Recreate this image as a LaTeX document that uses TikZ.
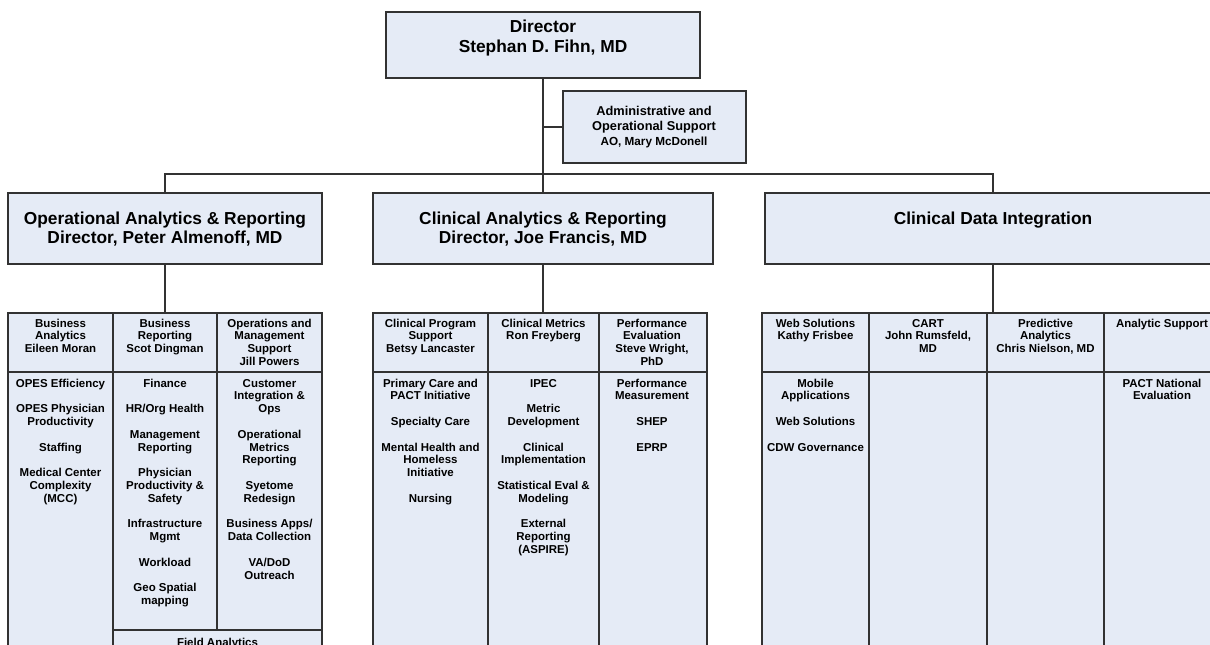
\documentclass[tikz,border=0pt]{standalone}
\usepackage{fontspec}
\setmainfont{Liberation Sans}
\definecolor{boxfill}{RGB}{229,235,246}
\definecolor{edge}{RGB}{50,50,50}
\newcommand\lns[1]{\vtop{\halign{\hfil##\hfil\cr#1\crcr}}}
\newcommand\bx[6][]{\node[box,#1,anchor=north west,minimum width={(#5-#3)*0.75pt},minimum height={(#6-#4)*0.75pt}] (#2) at (#3,#4) {};}
\tikzset{
  box/.style={rectangle,draw=edge,fill=boxfill,line width=1.25pt,inner sep=0pt,outer sep=0pt},
  conn/.style={draw=edge,line width=1.2pt},
  body/.style={anchor=base,inner sep=0pt,font=\bfseries\fontsize{8.6pt}{9.6pt}\selectfont},
  big/.style={anchor=base,inner sep=0pt,font=\bfseries\fontsize{13pt}{13.7pt}\selectfont},
  dirtxt/.style={anchor=base,inner sep=0pt,font=\bfseries\fontsize{13pt}{14.6pt}\selectfont},
  admtxt/.style={anchor=base,inner sep=0pt,font=\bfseries\fontsize{9.6pt}{11pt}\selectfont}
}
\begin{document}
\begin{tikzpicture}[x=0.75pt,y=-0.75pt]
\useasboundingbox (0,0) rectangle (1210,645);
\clip (0,0) rectangle (1210,645);
% top level
\bx{dir}{386}{12}{700}{78}
\node[dirtxt] (dirt) at (543,33) {\lns{Director\cr Stephan D. Fihn, MD}};
\bx{adm}{563}{91}{746}{163}
\node[admtxt] (admt) at (654,116) {\lns{Administrative and\cr Operational Support\cr {\fontsize{8.8pt}{11pt}\selectfont AO, Mary McDonell}}};
% level 2
\bx{op}{8}{193}{322}{264}
\node[big] (opt) at (165,225) {\lns{Operational Analytics \& Reporting\cr Director, Peter Almenoff, MD}};
\bx{car}{373}{193}{713}{264}
\node[big] (cart) at (543,225) {\lns{Clinical Analytics \& Reporting\cr Director, Joe Francis, MD}};
\bx{cdi}{765}{193}{1221}{264}
\node[big] (cdit) at (993,225) {\lns{Clinical Data Integration}};
% left table
\bx{lh1}{8}{313}{113}{372}
\bx{lh2}{113}{313}{217}{372}
\bx{lh3}{217}{313}{322}{372}
\bx{lb1}{8}{372}{113}{660}
\bx{lb2}{113}{372}{217}{630}
\bx{lb3}{217}{372}{322}{630}
\bx{lf}{113}{630}{322}{670}
\node[body] (lh1t) at (60.5,327) {\lns{Business\cr Analytics\cr Eileen Moran}};
\node[body] (lh2t) at (165,327) {\lns{Business\cr Reporting\cr Scot Dingman}};
\node[body] (lh3t) at (269.5,327) {\lns{Operations and\cr Management\cr Support\cr Jill Powers}};
\node[body] (lb1t) at (60.5,387) {\lns{OPES Efficiency\cr\cr OPES Physician\cr Productivity\cr\cr Staffing\cr\cr Medical Center\cr Complexity\cr (MCC)}};
\node[body] (lb2t) at (165,387) {\lns{Finance\cr\cr HR/Org Health\cr\cr Management\cr Reporting\cr\cr Physician\cr Productivity \&\cr Safety\cr\cr Infrastructure\cr Mgmt\cr\cr Workload\cr\cr Geo Spatial\cr mapping}};
\node[body] (lb3t) at (269.5,387) {\lns{Customer\cr Integration \&\cr Ops\cr\cr Operational\cr Metrics\cr Reporting\cr\cr Syetome\cr Redesign\cr\cr Business Apps/\cr Data Collection\cr\cr VA/DoD\cr Outreach}};
\node[body] (lft) at (217.5,646) {\lns{Field Analytics}};
% middle table
\bx{mh1}{373}{313}{488}{372}
\bx{mh2}{488}{313}{599}{372}
\bx{mh3}{599}{313}{707}{372}
\bx{mb1}{373}{372}{488}{660}
\bx{mb2}{488}{372}{599}{660}
\bx{mb3}{599}{372}{707}{660}
\node[body] (mh1t) at (430.5,327) {\lns{Clinical Program\cr Support\cr Betsy Lancaster}};
\node[body] (mh2t) at (543.5,327) {\lns{Clinical Metrics\cr Ron Freyberg}};
\node[body] (mh3t) at (652,327) {\lns{Performance\cr Evaluation\cr Steve Wright,\cr PhD}};
\node[body] (mb1t) at (430.5,387) {\lns{Primary Care and\cr PACT Initiative\cr\cr Specialty Care\cr\cr Mental Health and\cr Homeless\cr Initiative\cr\cr Nursing}};
\node[body] (mb2t) at (543.5,387) {\lns{IPEC\cr\cr Metric\cr Development\cr\cr Clinical\cr Implementation\cr\cr Statistical Eval \&\cr Modeling\cr\cr External\cr Reporting\cr (ASPIRE)}};
\node[body] (mb3t) at (652,387) {\lns{Performance\cr Measurement\cr\cr SHEP\cr\cr EPRP}};
% right table
\bx{rh1}{762}{313}{869}{372}
\bx{rh2}{869}{313}{987}{372}
\bx{rh3}{987}{313}{1104}{372}
\bx{rh4}{1104}{313}{1222}{372}
\bx{rb1}{762}{372}{869}{660}
\bx{rb2}{869}{372}{987}{660}
\bx{rb3}{987}{372}{1104}{660}
\bx{rb4}{1104}{372}{1222}{660}
\node[body] (rh1t) at (815.5,327) {\lns{Web Solutions\cr Kathy Frisbee}};
\node[body] (rh2t) at (928,327) {\lns{CART\cr John Rumsfeld,\cr MD}};
\node[body] (rh3t) at (1045.5,327) {\lns{Predictive\cr Analytics\cr Chris Nielson, MD}};
\node[body] (rh4t) at (1162,327) {\lns{Analytic Support}};
\node[body] (rb1t) at (815.5,387) {\lns{Mobile\cr Applications\cr\cr Web Solutions\cr\cr CDW Governance}};
\node[body] (rb4t) at (1162,387) {\lns{PACT National\cr Evaluation}};
% connectors
\coordinate (bus) at (543,174);
\draw[conn] (dir.south) -- (car.north);
\draw[conn] (adm.west) -- (adm.west -| dir.south);
\draw[conn] (op.north) |- (bus) -| (cdi.north);
\draw[conn] (op.south) -- (lh2.north);
\draw[conn] (car.south) -- (car.south |- mh2.north);
\draw[conn] (cdi.south) -- (cdi.south |- rh2.north);
\end{tikzpicture}
\end{document}
